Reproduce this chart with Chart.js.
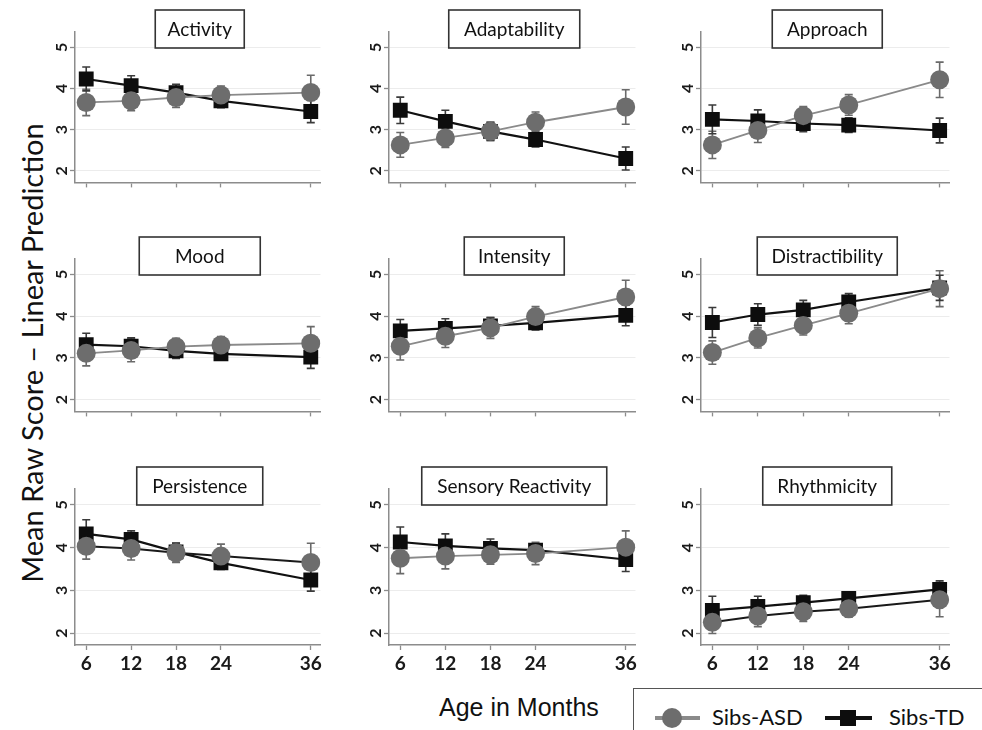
<!DOCTYPE html>
<html><head><meta charset="utf-8">
<script src="https://cdn.jsdelivr.net/npm/chart.js@4.4.1/dist/chart.umd.min.js"></script>
<style>
html,body{margin:0;padding:0;background:#fff;}
body{width:982px;height:730px;position:relative;overflow:hidden;}
canvas{position:absolute;}
#ytitle{position:absolute;left:32px;top:353px;transform:translate(-50%,-50%) rotate(-90deg);white-space:nowrap;font-family:Lato;font-size:29px;line-height:1.2;color:#111;}
#xtitle{position:absolute;left:439px;top:695px;font-family:'Liberation Sans',Arial,sans-serif;font-size:25px;line-height:25px;color:#111;white-space:nowrap;}
#legend{position:absolute;left:633px;top:688px;width:400px;height:80px;border:1.5px solid #555;background:#fff;}
.lg{position:absolute;}
.lt{position:absolute;font-family:Lato;font-size:22px;line-height:22px;color:#111;white-space:nowrap;}
</style></head><body>
<div id="ytitle">Mean Raw Score – Linear Prediction</div>
<div id="xtitle">Age in Months</div>
<div id="legend"></div>
<div class="lg" style="left:655px;top:716px;width:45px;height:4px;background:#8a8a8a;"></div>
<div class="lg" style="left:662px;top:708px;width:20px;height:20px;border-radius:50%;background:#6d6d6d;"></div>
<div class="lt" style="left:712px;top:706px;">Sibs-ASD</div>
<div class="lg" style="left:825px;top:716px;width:47px;height:4px;background:#111;"></div>
<div class="lg" style="left:840px;top:710px;width:16px;height:16px;background:#0d0d0d;"></div>
<div class="lt" style="left:889px;top:706px;">Sibs-TD</div>
<script>
// ---------- data ----------
const panels = ['Activity','Adaptability','Approach','Mood','Intensity','Distractibility','Persistence','Sensory Reactivity','Rhythmicity'];
const ages = [6, 12, 18, 24, 36];
const xTickLabels = ['6','12','18','24','36'];
const yTicks = [2, 3, 4, 5];

const asdMean = [
  [3.66, 3.70, 3.78, 3.84, 3.90],
  [2.63, 2.80, 2.96, 3.18, 3.55],
  [2.63, 2.98, 3.34, 3.60, 4.21],
  [3.11, 3.18, 3.27, 3.31, 3.35],
  [3.28, 3.52, 3.72, 3.99, 4.46],
  [3.13, 3.48, 3.78, 4.07, 4.66],
  [4.03, 3.98, 3.88, 3.80, 3.65],
  [3.75, 3.80, 3.83, 3.86, 4.01],
  [2.25, 2.40, 2.50, 2.57, 2.78]
];
const asdErr = [
  [0.32, 0.24, 0.24, 0.22, 0.42],
  [0.30, 0.23, 0.22, 0.25, 0.42],
  [0.33, 0.29, 0.22, 0.25, 0.43],
  [0.30, 0.27, 0.20, 0.20, 0.40],
  [0.33, 0.27, 0.25, 0.24, 0.40],
  [0.28, 0.24, 0.23, 0.25, 0.43],
  [0.30, 0.27, 0.23, 0.28, 0.45],
  [0.36, 0.30, 0.22, 0.26, 0.38],
  [0.26, 0.25, 0.23, 0.20, 0.40]
];
const tdMean = [
  [4.23, 4.07, 3.90, 3.70, 3.44],
  [3.47, 3.20, 2.96, 2.76, 2.30],
  [3.25, 3.21, 3.15, 3.11, 2.98],
  [3.32, 3.28, 3.17, 3.10, 3.02],
  [3.65, 3.71, 3.77, 3.84, 4.02],
  [3.85, 4.04, 4.15, 4.34, 4.68],
  [4.32, 4.19, 3.90, 3.64, 3.24],
  [4.13, 4.04, 3.98, 3.94, 3.72],
  [2.53, 2.62, 2.71, 2.81, 3.02]
];
const tdErr = [
  [0.29, 0.24, 0.20, 0.17, 0.27],
  [0.32, 0.27, 0.22, 0.18, 0.28],
  [0.35, 0.27, 0.20, 0.18, 0.30],
  [0.27, 0.20, 0.18, 0.15, 0.27],
  [0.27, 0.23, 0.20, 0.17, 0.25],
  [0.36, 0.26, 0.23, 0.20, 0.30],
  [0.33, 0.20, 0.20, 0.15, 0.26],
  [0.35, 0.28, 0.22, 0.15, 0.28],
  [0.33, 0.24, 0.17, 0.15, 0.20]
];

// ---------- layout / style ----------
const colAxisX = [75, 389, 701];
const colRight = [323, 638, 952];
const rowTop = [32, 259, 489];
const rowBottom = [188, 417, 645];
const titleBoxW = [89, 131, 110, 121, 100, 140, 126, 185, 129];
const asdLineDark = [false, false, false, false, false, false, true, false, true];
const Y_W = 60, PAD_T = 30, PAD_R = 8;

const errorBars = {
  id: 'errorBars',
  beforeDatasetsDraw(chart) {
    const ctx = chart.ctx, xs = chart.scales.x, ys = chart.scales.y;
    chart.data.datasets.forEach(ds => {
      ctx.save();
      ctx.strokeStyle = ds.errColor;
      ctx.lineWidth = 1.6;
      ds.data.forEach((p, j) => {
        const e = ds.errors[j];
        const x = xs.getPixelForValue(p.x);
        const y1 = ys.getPixelForValue(p.y + e), y2 = ys.getPixelForValue(p.y - e);
        ctx.beginPath();
        ctx.moveTo(x, y1); ctx.lineTo(x, y2);
        ctx.moveTo(x - 4, y1); ctx.lineTo(x + 4, y1);
        ctx.moveTo(x - 4, y2); ctx.lineTo(x + 4, y2);
        ctx.stroke();
      });
      ctx.restore();
    });
  }
};

const titleBox = {
  id: 'titleBox',
  afterDraw(chart, args, opts) {
    const ctx = chart.ctx, a = chart.chartArea;
    const cx = (a.left + a.right) / 2 + 2, w = opts.width, h = 38, top = a.top - 22;
    ctx.save();
    ctx.fillStyle = '#fff';
    ctx.fillRect(cx - w / 2, top, w, h);
    ctx.strokeStyle = '#333';
    ctx.lineWidth = 1.6;
    ctx.strokeRect(cx - w / 2, top, w, h);
    ctx.fillStyle = '#111';
    ctx.font = '19px Lato';
    ctx.textAlign = 'center';
    ctx.textBaseline = 'middle';
    ctx.fillText(opts.text, cx, top + h / 2 + 1);
    ctx.restore();
  }
};

function build() {
  Chart.defaults.font.family = 'Lato';
  panels.forEach((name, i) => {
    const col = i % 3, row = Math.floor(i / 3);
    const xh = row === 2 ? 42 : 8;
    const cv = document.createElement('canvas');
    const w = colRight[col] - colAxisX[col] + Y_W + PAD_R;
    const h = rowBottom[row] - rowTop[row] + PAD_T + xh;
    cv.width = w; cv.height = h;
    cv.style.width = w + 'px'; cv.style.height = h + 'px';
    cv.style.left = (colAxisX[col] - Y_W) + 'px';
    cv.style.top = (rowTop[row] - PAD_T) + 'px';
    document.body.appendChild(cv);
    new Chart(cv, {
      type: 'line',
      data: {
        datasets: [
          {
            label: 'Sibs-ASD',
            data: ages.map((a, j) => ({ x: a, y: asdMean[i][j] })),
            errors: asdErr[i], errColor: '#6a6a6a',
            borderColor: asdLineDark[i] ? '#1a1a1a' : '#8a8a8a', borderWidth: asdLineDark[i] ? 2 : 1.8,
            pointStyle: 'circle', pointRadius: 9.5, pointHoverRadius: 9.5,
            pointBackgroundColor: '#6d6d6d', pointBorderColor: '#6d6d6d', pointBorderWidth: 0,
            tension: 0
          },
          {
            label: 'Sibs-TD',
            data: ages.map((a, j) => ({ x: a, y: tdMean[i][j] })),
            errors: tdErr[i], errColor: '#3a3a3a',
            borderColor: '#111', borderWidth: 2.2,
            pointStyle: 'rect', pointRadius: 10.5, pointHoverRadius: 10.5,
            pointBackgroundColor: '#0d0d0d', pointBorderColor: '#0d0d0d', pointBorderWidth: 0,
            tension: 0
          }
        ]
      },
      options: {
        responsive: false, animation: false, devicePixelRatio: 1,
        layout: { padding: { top: PAD_T, right: PAD_R, left: 0, bottom: 0 } },
        plugins: {
          legend: { display: false }, tooltip: { enabled: false },
          titleBox: { text: name, width: titleBoxW[i] }
        },
        events: [],
        scales: {
          x: {
            type: 'linear', min: 4.5, max: 37.3,
            afterBuildTicks: s => { s.ticks = ages.map(v => ({ value: v })); },
            afterFit: s => { s.height = xh; },
            grid: { display: true, drawOnChartArea: false, drawTicks: true, tickLength: 5, tickColor: '#8c8c8c', tickWidth: 1.3 },
            border: { display: true, color: '#8c8c8c', width: 1.5 },
            ticks: {
              display: row === 2, autoSkip: false, maxRotation: 0, minRotation: 0, padding: 2,
              color: '#1a1a1a', font: { family: 'Lato', size: 19, weight: 'bold' },
              callback: (v, idx) => xTickLabels[idx]
            }
          },
          y: {
            min: 1.72, max: 5.37,
            afterBuildTicks: s => { s.ticks = yTicks.map(v => ({ value: v })); },
            afterFit: s => { s.width = Y_W; },
            grid: { color: '#ececec', lineWidth: 1, drawTicks: true, tickLength: 5, tickColor: '#8c8c8c', tickWidth: 1.3 },
            border: { display: true, color: '#8c8c8c', width: 1.5 },
            ticks: {
              minRotation: 90, maxRotation: 90, crossAlign: 'center', padding: 4,
              color: '#1a1a1a', font: { family: 'Lato', size: 16, weight: 'bold' }
            }
          }
        }
      },
      plugins: [errorBars, titleBox]
    });
  });
}

Promise.all([
  document.fonts.load('19px Lato'),
  document.fonts.load('bold 16px Lato')
]).then(build, build);
</script>
</body></html>
